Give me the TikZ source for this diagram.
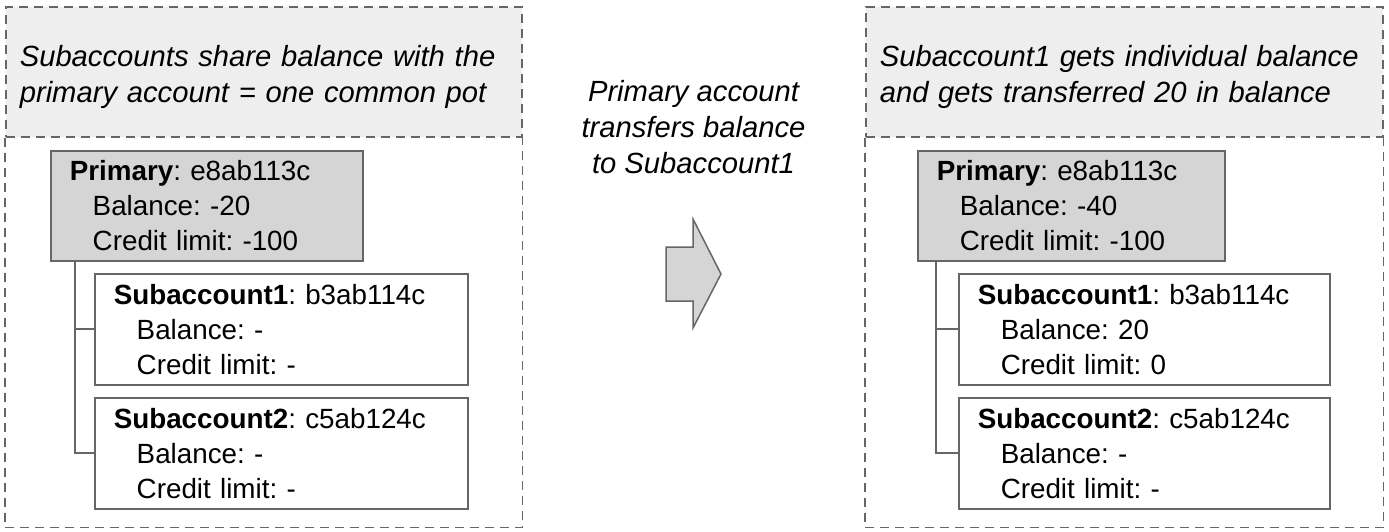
\documentclass[tikz,border=0pt]{standalone}
\usepackage{fontspec}
\setmainfont{Liberation Sans}
\usepackage{tikz}
\usetikzlibrary{positioning,calc}
\definecolor{acLine}{HTML}{666666}
\definecolor{acHead}{HTML}{EEEEEE}
\definecolor{acPrim}{HTML}{D5D5D5}
\newcommand{\acfont}{\fontsize{13.9}{17.5}\selectfont}
\newcommand{\hdfont}{\fontsize{14.6}{18}\selectfont\itshape}
\newcommand{\ind}{\hspace*{11.5pt}}
\newcommand{\hdstrut}{\rule{0pt}{16.2pt}}
\frenchspacing

\begin{document}
\begin{tikzpicture}[x=0.5pt,y=-0.5pt,
  panel/.style={draw=acLine,line width=0.8pt,dash pattern=on 4.5pt off 3pt},
  head/.style={panel,fill=acHead,anchor=north west,minimum height=65pt,
    inner xsep=7pt,align=left,font=\hdfont},
  acct/.style={draw=acLine,line width=0.75pt,anchor=north west,inner xsep=9.5pt,
    align=left,font=\acfont},
  prim/.style={acct,fill=acPrim,minimum height=55pt},
  sub/.style={acct,minimum height=55.5pt},
  tree/.style={draw=acLine,line width=1pt},
  note/.style={anchor=north,align=center,inner sep=0pt,font=\hdfont}
]
\useasboundingbox (0,0) rectangle (1389,531);
% left panel: one common pot
\node[head,text width=244pt] (lh) at (5,6) {\hdstrut Subaccounts share balance with the\\primary account = one common pot};
\draw[panel] (lh.south west) -- ++(0,390) -| (lh.south east);
\node[prim,text width=137pt] (lp) at (50,150) {\textbf{Primary}: e8ab113c\\\ind Balance: -20\\\ind Credit limit: -100};
\node[sub,text width=167.5pt] (ls1) at (94,273) {\textbf{Subaccount1}: b3ab114c\\\ind Balance: -\\\ind Credit limit: -};
\node[sub,text width=167.5pt] (ls2) at (94,397) {\textbf{Subaccount2}: c5ab124c\\\ind Balance: -\\\ind Credit limit: -};
\coordinate (lt) at ($(lp.south west)+(25,0)$);
\foreach \s in {ls1,ls2} \draw[tree] (lt) |- (\s.west);

% transfer step
\node[note] (mid) at (693.5,80) {Primary account\\transfers balance\\to Subaccount1};
\draw[acLine,fill=acPrim,line width=0.75pt] (666,247) -- (693,247) -- (693,219) -- (721,274)
  -- (693,328) -- (693,301) -- (666,301) -- cycle;

% right panel: individual balance
\node[head,text width=244.5pt] (rh) at (865,6) {\hdstrut Subaccount1 gets individual balance\\and gets transferred 20 in balance};
\draw[panel] (rh.south west) -- ++(0,390) -| (rh.south east);
\node[prim,text width=134.5pt] (rp) at (917,150) {\textbf{Primary}: e8ab113c\\\ind Balance: -40\\\ind Credit limit: -100};
\node[sub,text width=166.5pt] (rs1) at (958,273) {\textbf{Subaccount1}: b3ab114c\\\ind Balance: 20\\\ind Credit limit: 0};
\node[sub,text width=166.5pt] (rs2) at (958,397) {\textbf{Subaccount2}: c5ab124c\\\ind Balance: -\\\ind Credit limit: -};
\coordinate (rt) at ($(rp.south west)+(19,0)$);
\foreach \s in {rs1,rs2} \draw[tree] (rt) |- (\s.west);
\end{tikzpicture}
\end{document}
